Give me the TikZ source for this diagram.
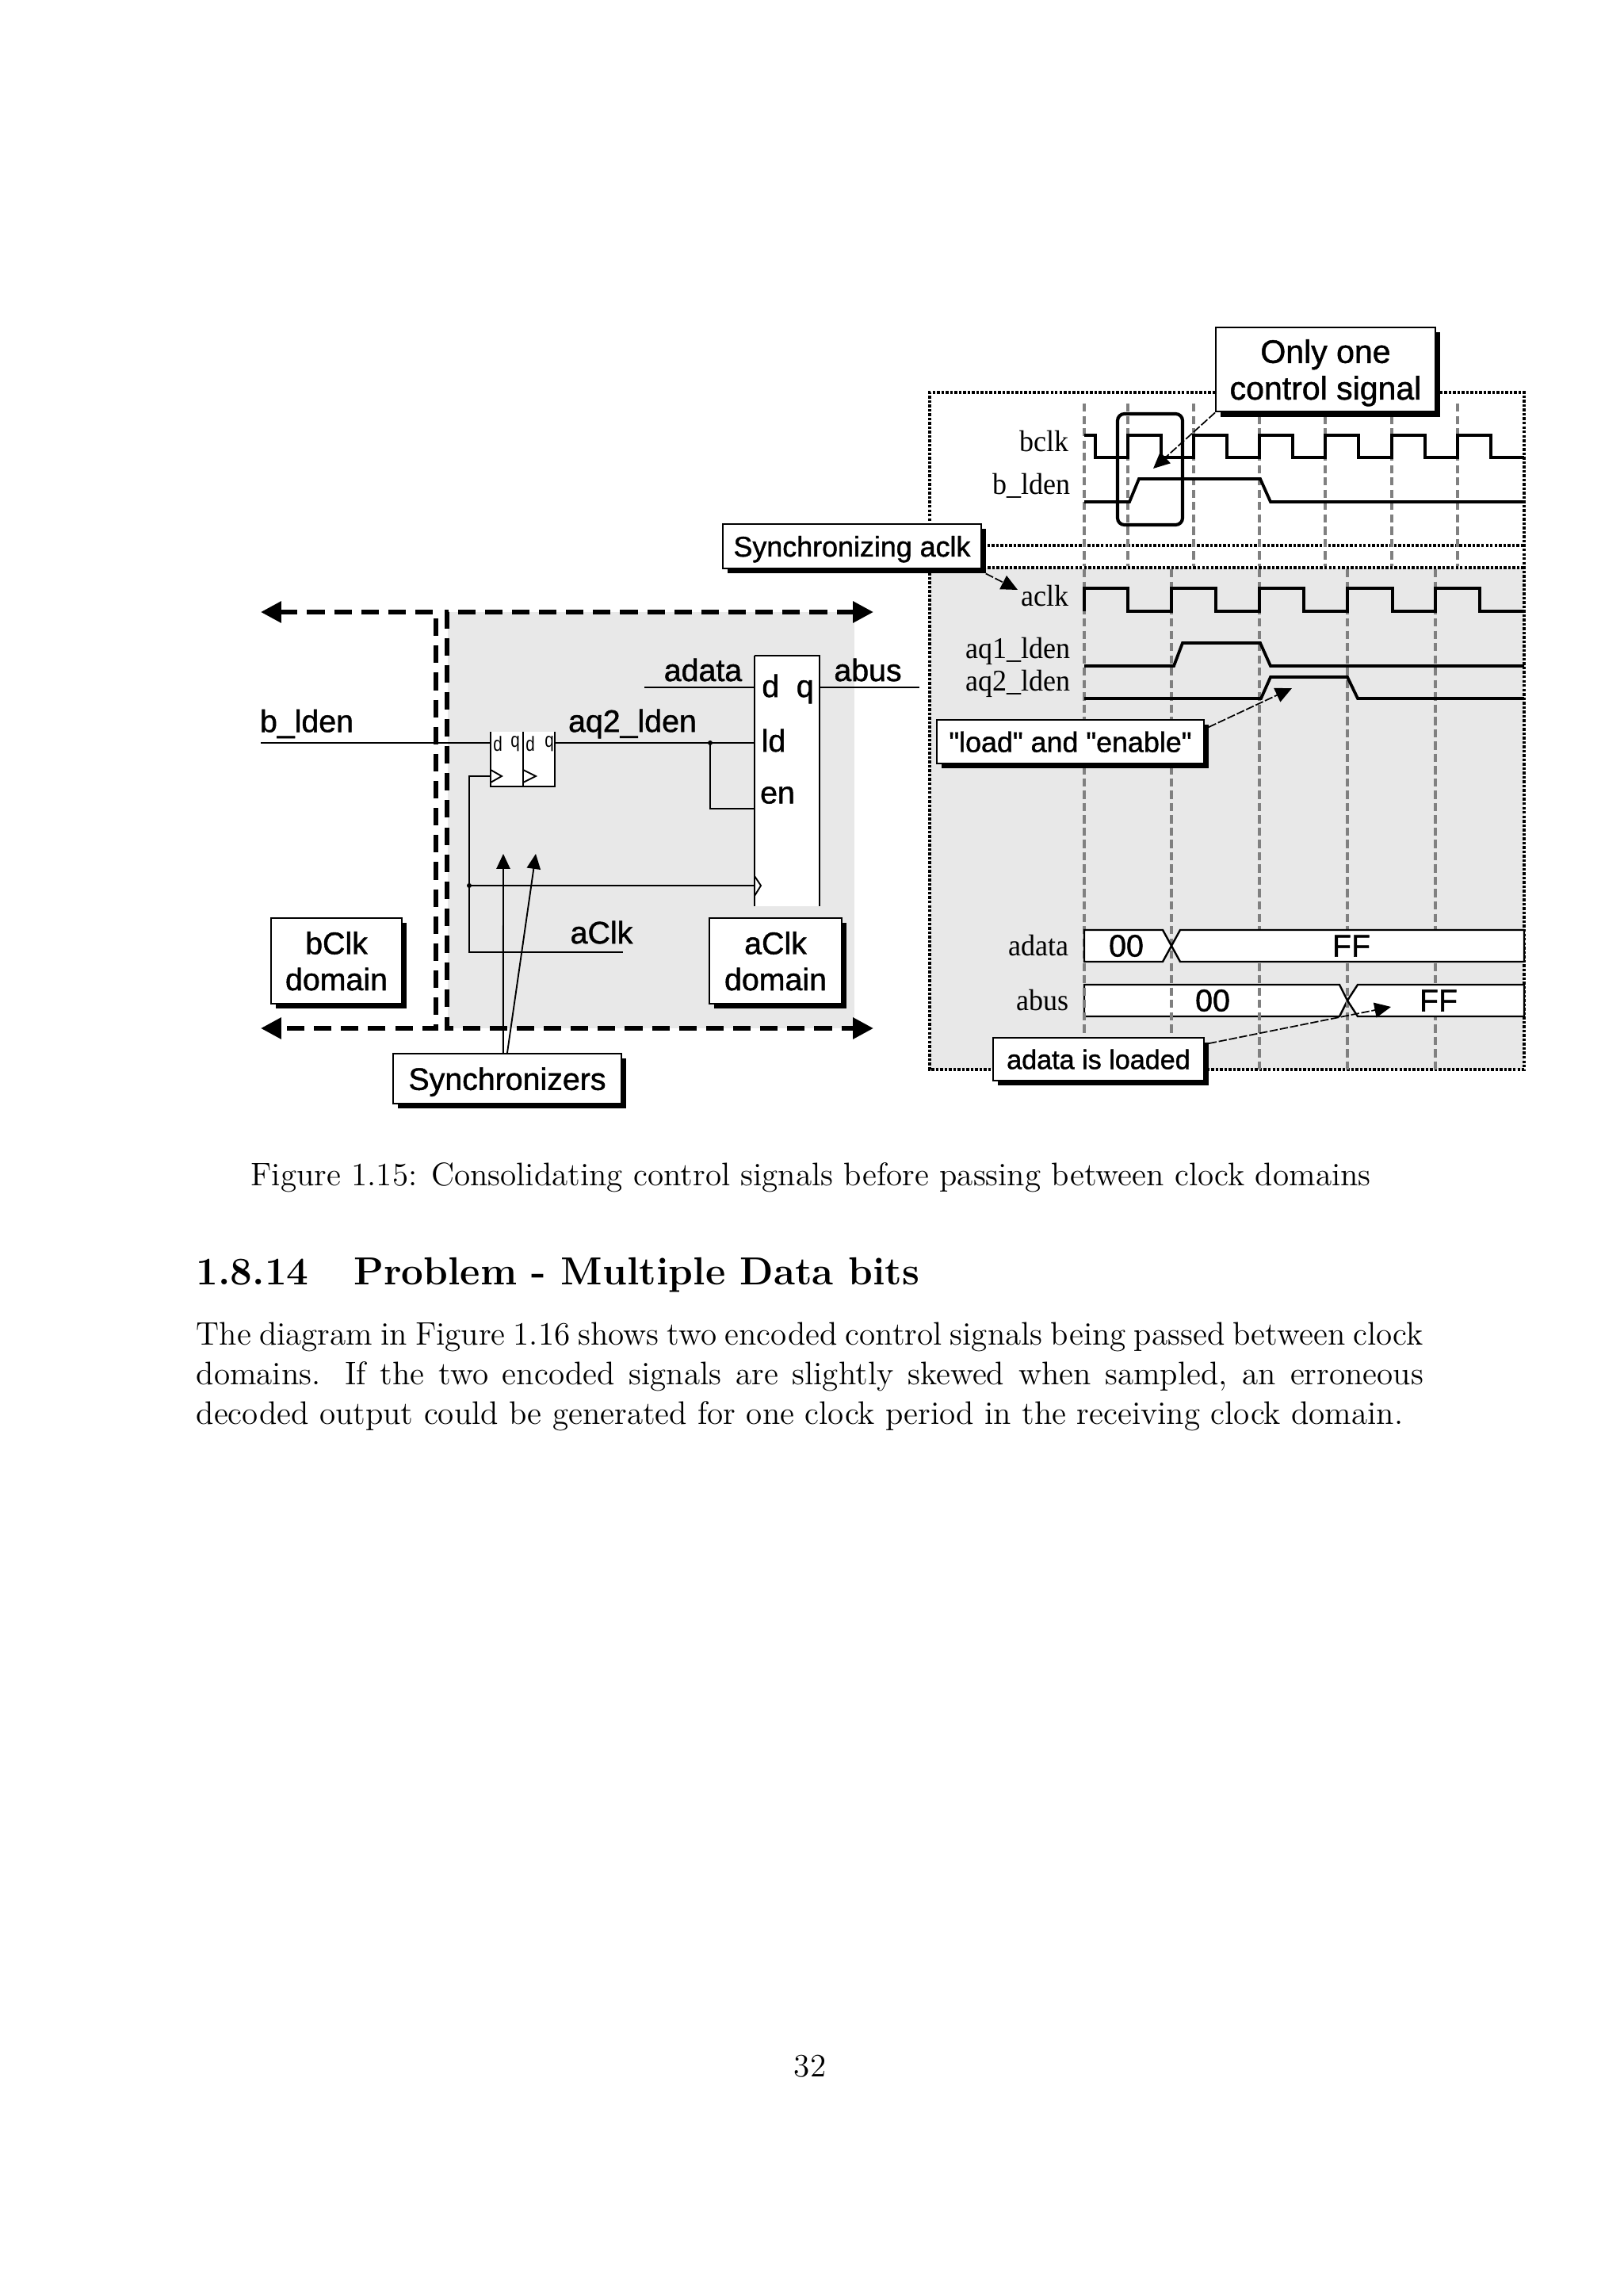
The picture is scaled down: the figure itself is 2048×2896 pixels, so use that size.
\documentclass[tikz,border=0pt]{standalone}
\usepackage{fontspec}
\usetikzlibrary{arrows.meta,shadows}
\newfontfamily\boxfont[FakeBold=1.2]{Liberation Sans}
\newfontfamily\tinyfont{Liberation Sans}
\newfontfamily\sigfont{Liberation Serif}
\definecolor{domaingrey}{HTML}{E8E8E8}
\tikzset{
  domainline/.style={line width=1.75pt, dash pattern=on 6.4pt off 3.5pt, {Triangle[length=7.5pt,width=7.5pt]}-{Triangle[length=7.5pt,width=7.5pt]}},
  wire/.style={line width=0.55pt},
  thickwire/.style={line width=0.8pt},
  gridline/.style={gray, line width=0.9pt, dash pattern=on 3pt off 1.5pt},
  frameline/.style={line width=1pt, dash pattern=on 1pt off 0.6pt},
  sigline/.style={line width=1.1pt},
  busline/.style={fill=white, draw=black, line width=0.7pt},
  pointer/.style={line width=0.5pt, dash pattern=on 3pt off 0.8pt, -{Triangle[length=6pt,width=5.5pt]}},
  syncarrow/.style={line width=0.55pt, -{Triangle[length=5.5pt,width=5pt]}},
  callout/.style={draw, fill=white, line width=0.6pt, inner sep=0pt, align=center, text depth=0pt, font=\boxfont\fontsize{11.4}{13.2}\selectfont,
    drop shadow={fill=black, opacity=1, shadow xshift=1.7pt, shadow yshift=-1.8pt}},
  smallcallout/.style={callout, font=\boxfont\fontsize{10.4}{13}\selectfont},
  wirelabel/.style={font=\boxfont\fontsize{11.4}{13}\selectfont, inner sep=0pt},
  siglabel/.style={font=\sigfont\fontsize{11}{13}\selectfont, anchor=east, inner sep=0pt, xscale=0.95},
  pinlabel/.style={font=\tinyfont\fontsize{7.5}{8}\selectfont, inner sep=0pt, xscale=0.8}
}
\begin{document}
\begin{tikzpicture}[x=0.29pt, y=-0.29pt]
\useasboundingbox (0,0) rectangle (2048,2896);

\fill[domaingrey] (565,772) rectangle (1078,1297);
\draw[domainline] (329,772) -- (550,772) -- (550,1297) -- (329,1297);
\draw[domainline] (1102,772) -- (564,772) -- (564,1297) -- (1102,1297);

\fill[white] (619,923) rectangle (700,992);
\draw[wire] (619,923) -- (619,992) -- (700,992) -- (700,923);
\draw[line width=0.8pt] (660,923) -- (660,992);
\draw[wire] (619,971) -- (633,979) -- (619,987);
\draw[wire] (660,971) -- (676,979) -- (660,987);
\node[pinlabel] (ffad) at (628,938) {d};
\node[pinlabel] (ffaq) at (650,938) {q};
\node[pinlabel] (ffbd) at (669,938) {d};
\node[pinlabel] (ffbq) at (693,938) {q};

\fill[white] (952,827) rectangle (1034,1143);
\draw[thickwire] (952,1143) -- (952,827);
\draw[wire] (952,827) -- (1034,827) -- (1034,1143);
\draw[wire] (952,1105) -- (960,1117) -- (952,1130);
\node[wirelabel] (regdq) at (994,869) {d\hspace{0.55em}q};
\node[wirelabel] (regld) at (976,934) {ld};
\node[wirelabel] (regen) at (981,1003) {en};

\coordinate (bin) at (329,937);
\coordinate (ffin) at (619,937);
\coordinate (ffout) at (700,937);
\coordinate (regld pin) at (952,937);
\coordinate (regen pin) at (952,1020);
\coordinate (jload) at (896,937);
\coordinate (jenable) at (896,1020);
\coordinate (adatain) at (813,867);
\coordinate (regd pin) at (952,867);
\coordinate (regq pin) at (1034,867);
\coordinate (abusout) at (1160,867);
\coordinate (ffclk) at (619,979);
\coordinate (clkcorner) at (592,979);
\coordinate (clkfoot) at (592,1201);
\coordinate (clkin) at (786,1201);
\coordinate (jclk) at (592,1117);
\coordinate (regclk) at (952,1117);
\draw[wire] (bin) -- (ffin);
\draw[wire] (ffout) -- (regld pin);
\draw[wire] (jload) -- (jenable) -- (regen pin);
\draw[wire] (adatain) -- (regd pin);
\draw[wire] (regq pin) -- (abusout);
\draw[wire] (ffclk) -- (clkcorner) -- (clkfoot) -- (clkin);
\draw[wire] (jclk) -- (regclk);
\fill (jload) circle [radius=3];
\fill (jclk) circle [radius=3];

\node[wirelabel] (blden) at (387,913) {b\_lden};
\node[wirelabel] (aqlden) at (798,913) {aq2\_lden};
\node[wirelabel] (adatalabel) at (887,845) {adata};
\node[wirelabel] (abuslabel) at (1095,845) {abus};
\node[wirelabel] (aclklabel) at (759,1176) {aClk};

\node[callout, minimum width=47.8pt, minimum height=31.3pt] (bclkbox) at (424.5,1212) {bClk\\domain};
\node[callout, minimum width=48.4pt, minimum height=31.3pt] (aclkbox) at (978.5,1212) {aClk\\domain};
\node[callout, minimum width=83.5pt, minimum height=18.3pt] (syncbox) at (640,1360.5) {Synchronizers};
\coordinate (synctipa) at (635,1077);
\coordinate (synctipb) at (676,1077);
\draw[syncarrow] ([xshift=-1.5pt]syncbox.north) -- (synctipa);
\draw[syncarrow] (syncbox.north) -- (synctipb);

\fill[domaingrey] (1173,716) rectangle (1923,1349);
\draw[frameline] (1173,657) -- (1173,495) -- (1923,495) -- (1923,1349) -- (1173,1349) -- (1173,716) -- (1923,716);
\draw[frameline] (1240,688) -- (1923,688);
\foreach \gx in {1368,1423,1506,1589,1672,1756,1839}
  \draw[gridline] (\gx,509) -- (\gx,714);

\draw[busline] (1368,1242) -- (1690,1242) -- (1700,1262) -- (1690,1282) -- (1368,1282) -- cycle;
\foreach \gx in {1368,1478,1589,1700,1811}
  \draw[gridline] (\gx,718) -- (\gx,1349);
\draw[busline] (1368,1173) -- (1467,1173) -- (1478,1193) -- (1467,1213) -- (1368,1213) -- cycle;
\draw[busline] (1923,1173) -- (1489,1173) -- (1478,1193) -- (1489,1213) -- (1923,1213) -- cycle;
\draw[busline] (1923,1242) -- (1713,1242) -- (1700,1262) -- (1713,1282) -- (1923,1282) -- cycle;

\draw[sigline] (1368,549) -- (1382,549) -- (1382,577) -- (1423,577) -- (1423,549) -- (1465,549) -- (1465,577) -- (1506,577) -- (1506,549) -- (1548,549) -- (1548,577) -- (1589,577) -- (1589,549) -- (1631,549) -- (1631,577) -- (1672,577) -- (1672,549) -- (1714,549) -- (1714,577) -- (1756,577) -- (1756,549) -- (1798,549) -- (1798,577) -- (1839,577) -- (1839,549) -- (1881,549) -- (1881,577) -- (1923,577);
\draw[sigline] (1368,633) -- (1425,633) -- (1437,604) -- (1590,604) -- (1603,633) -- (1923,633);
\draw[sigline] (1368,771) -- (1368,742) -- (1423,742) -- (1423,771) -- (1478,771) -- (1478,742) -- (1534,742) -- (1534,771) -- (1589,771) -- (1589,742) -- (1645,742) -- (1645,771) -- (1700,771) -- (1700,742) -- (1757,742) -- (1757,771) -- (1811,771) -- (1811,742) -- (1867,742) -- (1867,771) -- (1923,771);
\draw[sigline] (1368,840) -- (1481,840) -- (1492,811) -- (1590,811) -- (1603,840) -- (1923,840);
\draw[sigline] (1368,881) -- (1591,881) -- (1603,854) -- (1700,854) -- (1713,881) -- (1923,881);
\draw[rounded corners=2.5pt, line width=1.2pt] (1410,522) rectangle (1492,662);

\node[siglabel] (bclksig) at (1349,557) {bclk};
\node[siglabel] (bldensig) at (1351,613) {b\_lden};
\node[siglabel] (aclksig) at (1349,752) {aclk};
\node[siglabel] (aqonesig) at (1351,821) {aq1\_lden};
\node[siglabel] (aqtwosig) at (1351,862) {aq2\_lden};
\node[siglabel] (adatasig) at (1349,1193) {adata};
\node[siglabel] (abussig) at (1349,1262) {abus};

\node[wirelabel] (adataold) at (1421,1193) {00};
\node[wirelabel] (adatanew) at (1705,1193) {FF};
\node[wirelabel] (abusold) at (1530,1262) {00};
\node[wirelabel] (abusnew) at (1815,1262) {FF};

\node[callout, font=\boxfont\fontsize{11.9}{13.4}\selectfont, minimum width=80.3pt, minimum height=31pt] (onlybox) at (1672.5,466) {Only one\\control signal};
\node[smallcallout, minimum width=94.5pt, minimum height=16.2pt] (syncingbox) at (1075,689) {Synchronizing aclk};
\node[smallcallout, minimum width=97.7pt, minimum height=16pt] (loadbox) at (1350.5,935.5) {"load" and "enable"};
\node[smallcallout, font=\boxfont\fontsize{9.9}{12}\selectfont, minimum width=77.1pt, minimum height=15.7pt] (loadedbox) at (1386,1336) {adata is loaded};

\coordinate (onlytip) at (1455,591);
\coordinate (syncingtip) at (1284,744);
\coordinate (loadtip) at (1630,868);
\coordinate (loadedtip) at (1755,1270);
\draw[pointer] (onlybox.south west) -- (onlytip);
\draw[pointer] ([xshift=1.4pt,yshift=-1.6pt]syncingbox.south east) -- (syncingtip);
\draw[pointer] ([xshift=1.4pt,yshift=-3pt]loadbox.north east) -- (loadtip);
\draw[pointer] ([xshift=1.4pt,yshift=-2.4pt]loadedbox.north east) -- (loadedtip);

\node[anchor=base west, inner sep=0pt, font=\fontsize{11.92}{14.5}\selectfont] (caption) at (316,1495) {Figure 1.15: Consolidating control signals before passing between clock domains};
\node[anchor=base west, inner sep=0pt, font=\fontsize{14.3}{17}\selectfont\bfseries] (heading) at (247,1620) {1.8.14\hspace{1.15em}Problem - Multiple Data bits};
\node[anchor=north west, inner sep=0pt, text width=449pt, align=justify, font=\fontsize{11.92}{14.5}\selectfont] (para) at (247,1667) {The diagram in Figure 1.16 shows two encoded control signals being passed between clock\linebreak domains.  If the two encoded signals are slightly skewed when sampled, an erroneous\linebreak decoded output could be generated for one clock period in the receiving clock domain.};
\node[inner sep=0pt, font=\fontsize{11.92}{14.5}\selectfont] (pagenum) at (1022,2606) {32};
\end{tikzpicture}
\end{document}
